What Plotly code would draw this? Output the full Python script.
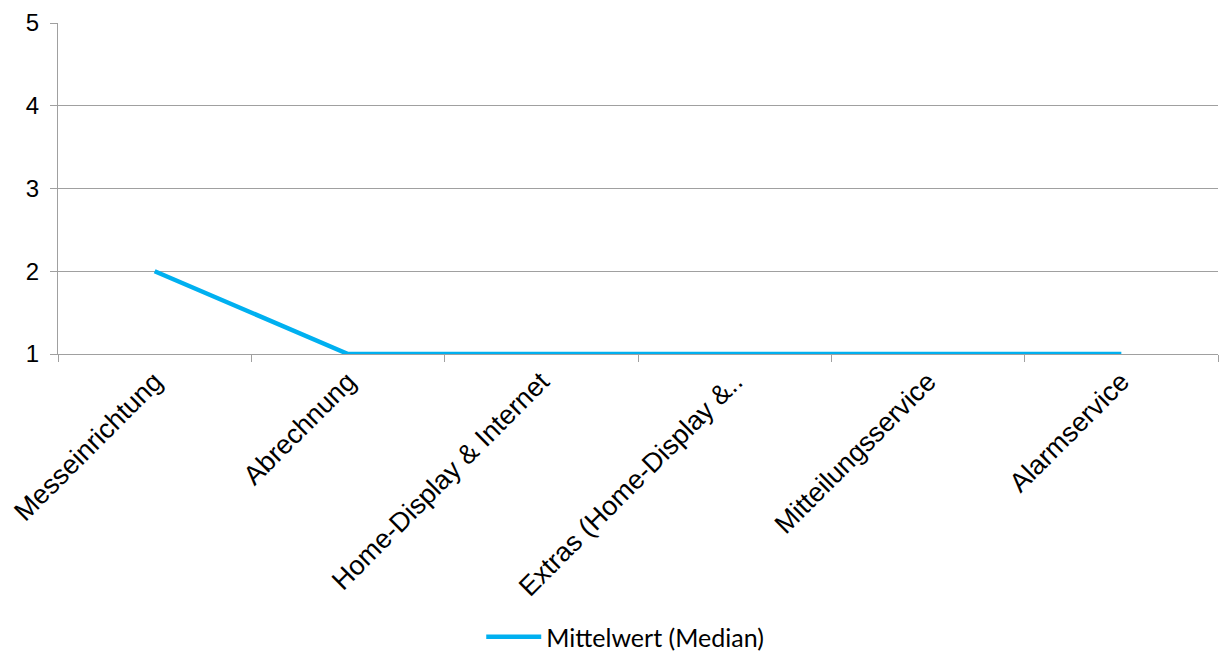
import plotly.graph_objects as go

categories = ["Messeinrichtung", "Abrechnung", "Home-Display & Internet",
              "Extras (Home-Display &..", "Mitteilungsservice", "Alarmservice"]
median_values = [2, 1, 1, 1, 1, 1]
series_name = "Mittelwert (Median)"
y_ticks = [1, 2, 3, 4, 5]

fig = go.Figure()
fig.add_trace(go.Scatter(
    x=categories, y=median_values, mode="lines", name=series_name,
    line=dict(color="#00B0F0", width=4.5), showlegend=True,
))

fig.update_layout(
    width=1219, height=652,
    margin=dict(l=58, r=1, t=23, b=298, autoexpand=False),
    paper_bgcolor="white", plot_bgcolor="white",
    font=dict(family="Liberation Sans, Arial, sans-serif", size=24, color="black"),
    showlegend=True,
    legend=dict(orientation="h", x=0.489, xanchor="center", y=-0.855, yanchor="middle",
                font=dict(family="Lato, Noto Sans, sans-serif", size=25, color="black"),
                itemwidth=55),
    xaxis=dict(type="category", tickangle=-45, tickson="boundaries",
               ticks="outside", ticklen=7, tickcolor="#A0A0A0",
               showgrid=False, showline=True, linecolor="#A0A0A0", linewidth=1,
               automargin=False,
               tickfont=dict(size=27, color="black"), range=[-0.5, 5.5]),
    yaxis=dict(range=[1, 5], tickvals=y_ticks, ticks="outside", ticklen=7,
               tickcolor="#A0A0A0", showgrid=True, gridcolor="#A0A0A0", gridwidth=1,
               showline=True, linecolor="#A0A0A0", linewidth=1, zeroline=False,
               ticklabelstandoff=6, automargin=False,
               tickfont=dict(size=24, color="black")),
)

fig.write_html("out.html")
